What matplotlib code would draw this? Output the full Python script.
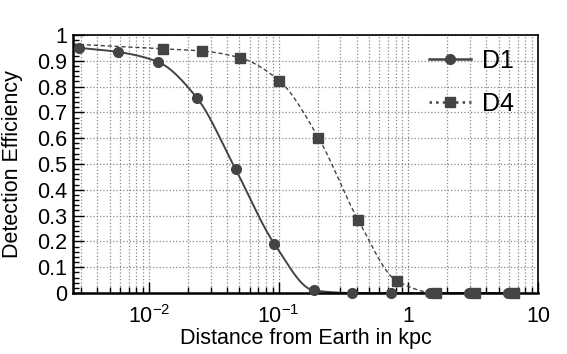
import numpy as np
import matplotlib
matplotlib.use("Agg")
import matplotlib.pyplot as plt
from matplotlib.ticker import FixedLocator, LogLocator, NullFormatter, MultipleLocator

plt.rcParams['font.family'] = ['Liberation Sans', 'DejaVu Sans']
plt.rcParams['mathtext.fontset'] = 'custom'
plt.rcParams['mathtext.rm'] = 'Liberation Sans'
plt.rcParams['mathtext.it'] = 'Liberation Sans'

# detection efficiency vs distance (kpc)
d1_dist = [0.0029, 0.0058, 0.0117, 0.0234, 0.0467, 0.093, 0.187, 0.37, 0.74, 1.48, 2.96, 5.9]
d1_eff = [0.95, 0.934, 0.896, 0.757, 0.479, 0.19, 0.01, 0, 0, 0, 0, 0]

d4_dist = [0.0128, 0.0255, 0.0509, 0.1016, 0.203, 0.412, 0.822, 1.64, 3.27, 6.5]
d4_eff = [0.946, 0.938, 0.911, 0.822, 0.602, 0.282, 0.046, 0, 0, 0]

x_ticks = [0.01, 0.1, 1, 10]
x_ticklabels = ['$10^{-2}$', '$10^{-1}$', '1', '10']
y_ticklabels = ['0', '0.1', '0.2', '0.3', '0.4', '0.5', '0.6', '0.7', '0.8', '0.9', '1']

col = '#444444'


def smooth_curve(xk, yk, xq):
    # monotone cubic through the points, in log10(x); linear beyond the first point
    lx = np.log10(xk)
    y = np.asarray(yk, float)
    h = np.diff(lx)
    d = np.diff(y) / h
    m = np.zeros_like(y)
    m[0], m[-1] = d[0], d[-1]
    for k in range(1, len(y) - 1):
        if d[k - 1] * d[k] > 0:
            w1 = 2 * h[k] + h[k - 1]
            w2 = h[k] + 2 * h[k - 1]
            m[k] = (w1 + w2) / (w1 / d[k - 1] + w2 / d[k])
    lq = np.log10(xq)
    out = np.empty_like(lq)
    for i, t in enumerate(lq):
        if t <= lx[0]:
            out[i] = y[0] + m[0] * (t - lx[0])
            continue
        k = min(np.searchsorted(lx, t) - 1, len(h) - 1)
        s = (t - lx[k]) / h[k]
        h00 = 2 * s**3 - 3 * s**2 + 1
        h10 = s**3 - 2 * s**2 + s
        h01 = -2 * s**3 + 3 * s**2
        h11 = s**3 - s**2
        out[i] = h00 * y[k] + h10 * h[k] * m[k] + h01 * y[k + 1] + h11 * h[k] * m[k + 1]
    return out


fig = plt.figure(figsize=(5.67, 3.54), dpi=100)
ax = fig.add_axes([0.1287, 0.1723, 0.820, 0.729])

xmin, xmax = 0.0026, 10
xs = np.logspace(np.log10(xmin), np.log10(d1_dist[-1]), 400)
ax.plot(xs, smooth_curve(d1_dist, d1_eff, xs), '-', color=col, lw=1.4)
xs4 = np.logspace(np.log10(xmin), np.log10(d4_dist[-1]), 400)
ax.plot(xs4, smooth_curve(d4_dist, d4_eff, xs4), '--', color=col, lw=1.0, dashes=(3, 2))

ax.plot(d1_dist, d1_eff, 'o', color=col, ms=7, clip_on=False, zorder=5)
ax.plot(d4_dist, d4_eff, 's', color=col, ms=7, clip_on=False, zorder=5)

# legend proxies
ax.plot([], [], '-o', color=col, lw=1.8, ms=7, label='D1')
ax.plot([], [], ':s', color=col, lw=1.8, ms=7, label='D4')
ax.legend(loc='upper right', frameon=False, fontsize=18, handlelength=1.65,
          handletextpad=0.45, labelspacing=0.75, borderaxespad=0.0,
          bbox_to_anchor=(0.97, 0.985))

ax.set_xscale('log')
ax.set_xlim(xmin, xmax)
ax.set_ylim(0, 1)

ax.xaxis.set_major_locator(FixedLocator(x_ticks))
ax.set_xticklabels(x_ticklabels)
ax.xaxis.set_minor_locator(LogLocator(base=10, subs=np.arange(2, 10)))
ax.xaxis.set_minor_formatter(NullFormatter())
ax.set_yticks(np.arange(0, 1.01, 0.1))
ax.set_yticklabels(y_ticklabels)
ax.yaxis.set_minor_locator(MultipleLocator(0.02))

ax.tick_params(axis='both', which='both', direction='in', top=False, right=False,
               labelsize=15.5, color='black')
ax.tick_params(axis='y', which='major', length=8, width=1, pad=4)
ax.tick_params(axis='y', which='minor', length=4, width=1)
ax.tick_params(axis='x', which='major', length=8, width=1, pad=9)
ax.tick_params(axis='x', which='minor', length=4, width=1)

ax.grid(True, which='major', axis='both', color='#888888', ls=':', lw=0.9)
ax.grid(True, which='minor', axis='x', color='#888888', ls=':', lw=0.9)
ax.set_axisbelow(True)

for side in ['left', 'bottom']:
    ax.spines[side].set_linewidth(1.8)
for side in ['top', 'right']:
    ax.spines[side].set_linewidth(1.2)

ax.set_xlabel('Distance from Earth in kpc', fontsize=15.5, labelpad=-0.5)
ax.set_ylabel('Detection Efficiency', fontsize=15.5, labelpad=10)

fig.savefig('out.png', dpi=100)
